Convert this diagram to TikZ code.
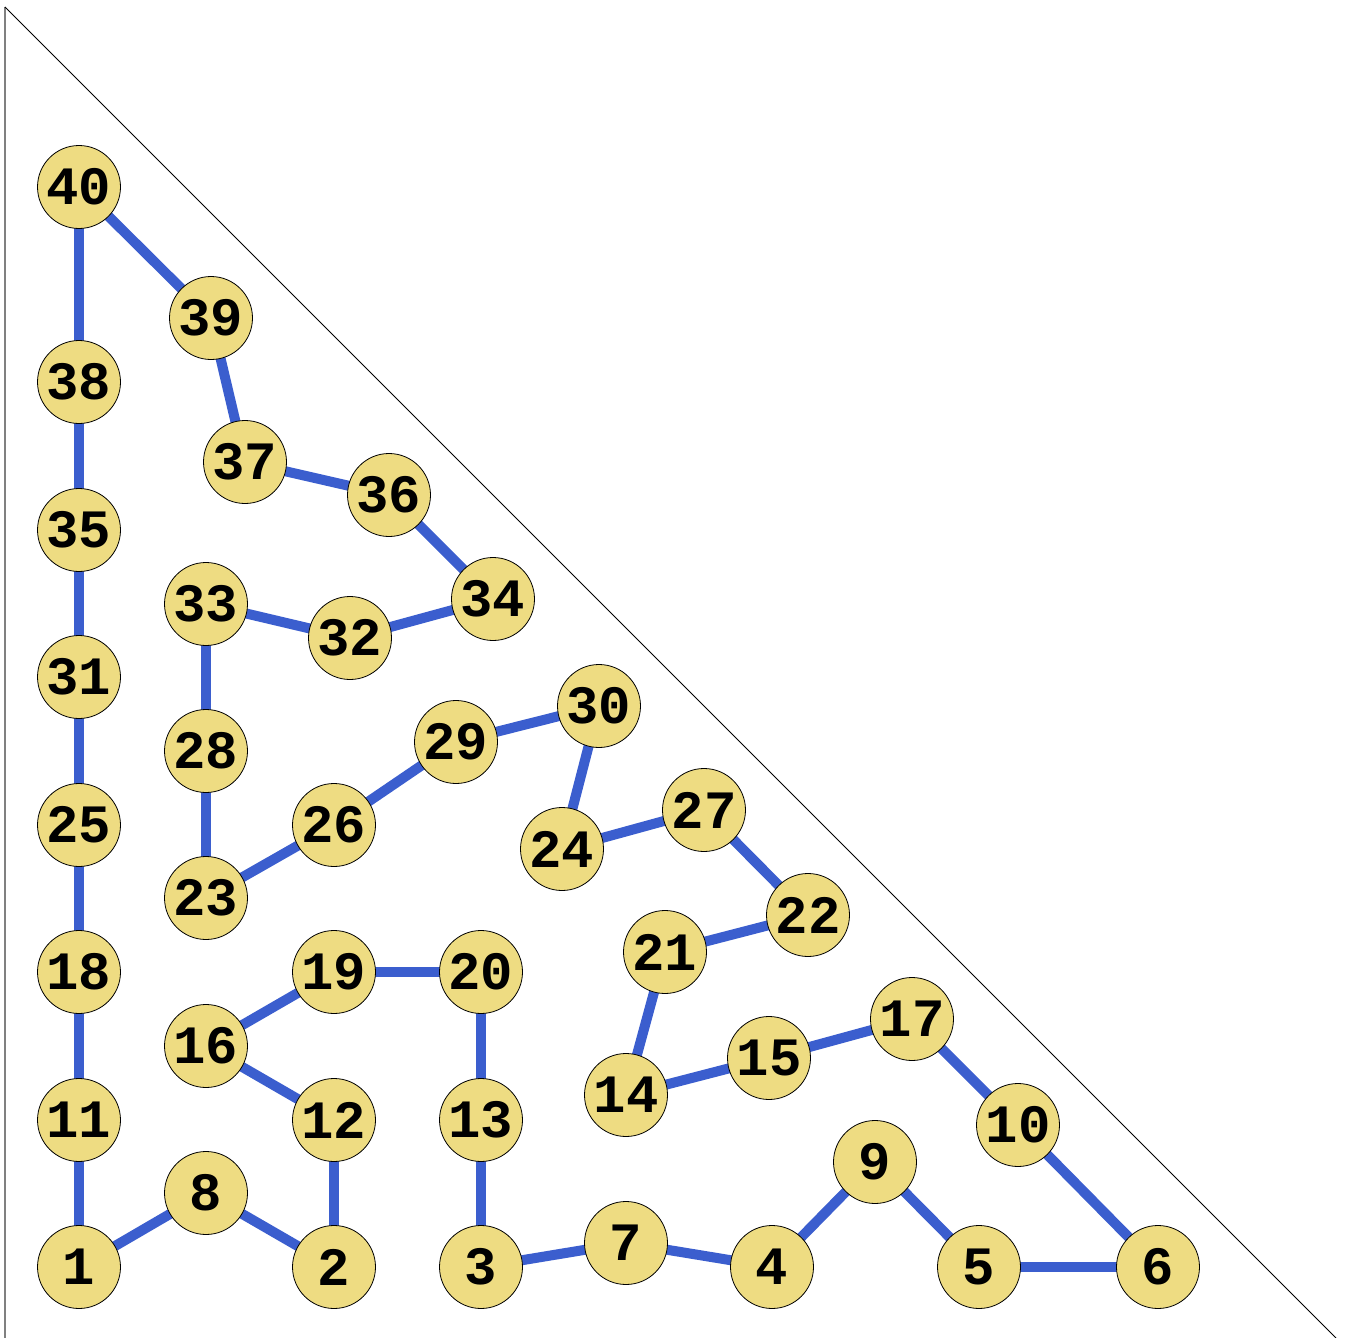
\documentclass[tikz,border=0pt]{standalone}
\usepackage{fontspec}
\newfontfamily\nodefont{Liberation Mono}
\begin{document}
\begin{tikzpicture}[x=1pt,y=-1pt,
  vtx/.style={circle,draw=black,line width=0.8pt,fill=vtxfill,minimum size=83pt,inner sep=0pt,
    font=\nodefont\fontsize{54}{54}\selectfont\bfseries},
  edge/.style={draw=edgeblue,line width=10pt}]
\definecolor{vtxfill}{RGB}{238,220,130}
\definecolor{edgeblue}{RGB}{59,94,206}
\useasboundingbox (0,0) rectangle (1345,1338);
\draw[gray,line width=1.2pt] (5,7) -- (5,1338);
\draw[black,line width=0.8pt] (5,7) -- (1336,1338);
\foreach \n/\x/\y in {1/79/1267,2/334/1267,3/481/1267,4/772/1267,5/979/1267,6/1158/1267,
  7/626/1243,8/206/1193,9/875/1162,10/1018/1125,11/79/1120,12/334/1120,13/481/1120,
  14/626/1095,15/769/1058,16/206/1046,17/912/1019,18/79/972,19/334/972,20/481/972,
  21/665/952,22/808/915,23/206/898,24/562/849,25/79/825,26/334/825,27/704/810,
  28/206/751,29/456/742,30/599/706,31/79/677,32/350/638,33/206/604,34/493/599,
  35/79/530,36/389/495,37/245/462,38/79/382,39/211/318,40/79/187}
  \coordinate (c\n) at (\x,\y);
\foreach \a/\b in {1/8,8/2,2/12,12/16,16/19,19/20,20/13,13/3,3/7,7/4,4/9,9/5,5/6,6/10,
  10/17,17/15,15/14,14/21,21/22,22/27,27/24,24/30,30/29,29/26,26/23,23/28,28/33,33/32,
  32/34,34/36,36/37,37/39,39/40,40/38,38/35,35/31,31/25,25/18,18/11,11/1}
  \draw[edge] (c\a) -- (c\b);
\foreach \n in {1,...,40}
  \node[vtx] (v\n) at (c\n) {\n};
\end{tikzpicture}
\end{document}
